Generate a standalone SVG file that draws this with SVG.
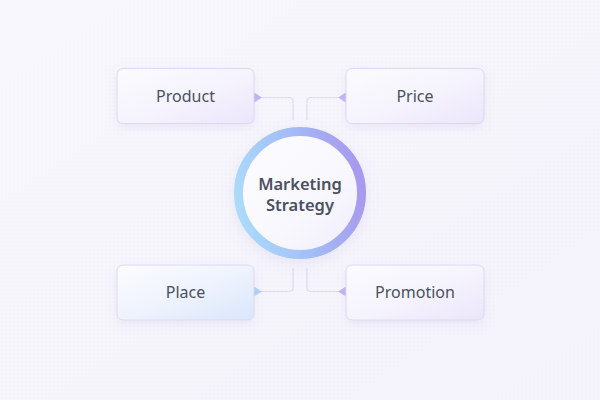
<svg xmlns="http://www.w3.org/2000/svg" width="600" height="400" viewBox="0 0 600 400">
  <defs>
    <linearGradient id="bg" x1="0" y1="0" x2="1" y2="1">
      <stop offset="0" stop-color="#f8f7fc"/>
      <stop offset="1" stop-color="#f4f3fb"/>
    </linearGradient>
    <pattern id="dots" width="4" height="4" patternUnits="userSpaceOnUse">
      <circle cx="2" cy="2" r="0.6" fill="#e9e6f4"/>
    </pattern>
    <linearGradient id="boxPurple" x1="0" y1="0" x2="1" y2="1">
      <stop offset="0" stop-color="#fbfbfe"/>
      <stop offset="0.55" stop-color="#f5f3fd"/>
      <stop offset="1" stop-color="#ebe5fb"/>
    </linearGradient>
    <linearGradient id="boxBlue" x1="0" y1="0" x2="1" y2="1">
      <stop offset="0" stop-color="#fbfcfe"/>
      <stop offset="0.5" stop-color="#eff3fd"/>
      <stop offset="1" stop-color="#d9e6fc"/>
    </linearGradient>
    <linearGradient id="ring" x1="0" y1="0.6" x2="1" y2="0.4">
      <stop offset="0" stop-color="#abdafb"/>
      <stop offset="0.5" stop-color="#a3bdf6"/>
      <stop offset="1" stop-color="#a899ee"/>
    </linearGradient>
    <linearGradient id="core" x1="0" y1="0" x2="1" y2="1">
      <stop offset="0" stop-color="#fdfdff"/>
      <stop offset="0.6" stop-color="#f8f7fd"/>
      <stop offset="1" stop-color="#efecfb"/>
    </linearGradient>
    <filter id="shadow" x="-30%" y="-40%" width="160%" height="190%">
      <feDropShadow dx="0" dy="4" stdDeviation="5" flood-color="#8f86c9" flood-opacity="0.12"/>
    </filter>
    <filter id="ringShadow" x="-30%" y="-30%" width="160%" height="160%">
      <feDropShadow dx="0" dy="4" stdDeviation="7" flood-color="#8f86c9" flood-opacity="0.15"/>
    </filter>
    <marker id="triP" viewBox="0 0 8 10" refX="0" refY="5" markerWidth="8" markerHeight="10" markerUnits="userSpaceOnUse" orient="auto">
      <path d="M0,0 L8,5 L0,10 Z" fill="#c2b5f3"/>
    </marker>
    <marker id="triB" viewBox="0 0 8 10" refX="0" refY="5" markerWidth="8" markerHeight="10" markerUnits="userSpaceOnUse" orient="auto">
      <path d="M0,0 L8,5 L0,10 Z" fill="#b5d0f8"/>
    </marker>
  </defs>
  <style>
    .box { stroke: #dcd8f2; stroke-width: 1; filter: url(#shadow); }
    .label { font-family: "Noto Sans", "Liberation Sans", sans-serif; font-size: 16px; fill: #4b5061; text-anchor: middle; }
    .title { font-family: "Noto Sans", "Liberation Sans", sans-serif; font-size: 16.5px; font-weight: 600; fill: #4b5061; text-anchor: middle; }
    .conn { fill: none; stroke: #dedaf1; stroke-width: 1.2; }
  </style>

  <rect width="600" height="400" fill="url(#bg)"/>
  <rect width="600" height="400" fill="url(#dots)"/>

  <g id="connectors">
    <path class="conn" d="M254,97.5 H289 Q293,97.5 293,101.5 V120" marker-start="url(#triP)"/>
    <path class="conn" d="M346,97.5 H311 Q307,97.5 307,101.5 V120" marker-start="url(#triP)"/>
    <path class="conn" d="M254,291.5 H289 Q293,291.5 293,287.5 V268" marker-start="url(#triB)"/>
    <path class="conn" d="M346,291.5 H311 Q307,291.5 307,287.5 V268" marker-start="url(#triP)"/>
  </g>

  <g id="product">
    <rect class="box" x="117" y="68.5" width="137" height="55" rx="6" fill="url(#boxPurple)"/>
    <text class="label" x="185.5" y="102">Product</text>
  </g>
  <g id="price">
    <rect class="box" x="346" y="68.5" width="138" height="55" rx="6" fill="url(#boxPurple)"/>
    <text class="label" x="415" y="102">Price</text>
  </g>
  <g id="place">
    <rect class="box" x="117" y="265" width="137" height="55" rx="6" fill="url(#boxBlue)" stroke="#d6e0f5"/>
    <text class="label" x="185.5" y="298">Place</text>
  </g>
  <g id="promotion">
    <rect class="box" x="346" y="265" width="138" height="55" rx="6" fill="url(#boxPurple)"/>
    <text class="label" x="415" y="298">Promotion</text>
  </g>

  <g id="marketing-strategy">
    <circle cx="300" cy="193" r="61.5" fill="url(#core)" stroke="url(#ring)" stroke-width="9" filter="url(#ringShadow)"/>
    <text class="title" x="300" y="190">Marketing</text>
    <text class="title" x="300" y="211">Strategy</text>
  </g>
</svg>
